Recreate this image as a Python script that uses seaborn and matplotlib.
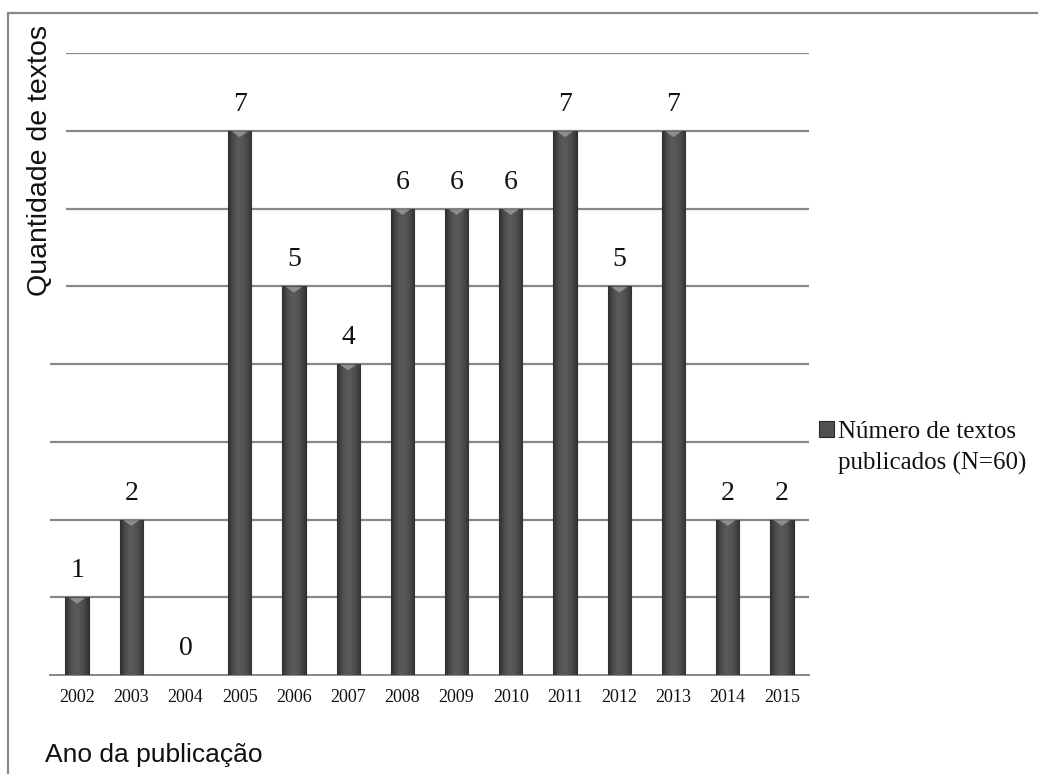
import numpy as np
import pandas as pd
import matplotlib
matplotlib.use('Agg')
import matplotlib.pyplot as plt
import matplotlib.transforms as mtransforms
from matplotlib.patches import Rectangle
from matplotlib.colors import LinearSegmentedColormap
import seaborn as sns

# data
years = ['2002', '2003', '2004', '2005', '2006', '2007', '2008',
         '2009', '2010', '2011', '2012', '2013', '2014', '2015']
counts = [1, 2, 0, 7, 5, 4, 6, 6, 6, 7, 5, 7, 2, 2]
series_lines = ['Número de textos', 'publicados (N=60)']

df = pd.DataFrame({'Ano': years, 'Quantidade': counts})

sns.set_theme(style='white')
plt.rcParams['font.family'] = ['Liberation Serif', 'DejaVu Serif']

fig = plt.figure(figsize=(10.38, 7.74), dpi=100)
ax = fig.add_axes([50 / 1038, 1 - 675 / 774, (809 - 50) / 1038, (675 - 53) / 774])

sns.barplot(data=df, x='Ano', y='Quantidade', color='#4f4f4f', width=0.43,
            edgecolor='#2b2b2b', linewidth=0.8, saturation=1, ax=ax,
            label=series_lines[0], zorder=3)

# horizontal shading on each bar, like the bevelled Excel look
shade = LinearSegmentedColormap.from_list(
    'bevel', ['#2e2e2e', '#4a4a4a', '#5a5a5a', '#575757', '#4a4a4a', '#333333'])
grad = np.linspace(0, 1, 64).reshape(1, -1)
for p in ax.patches:
    if p.get_height() <= 0:
        continue
    x0, y0 = p.get_x(), p.get_y()
    im = ax.imshow(grad, extent=[x0, x0 + p.get_width(), y0, y0 + p.get_height()],
                   aspect='auto', cmap=shade, zorder=3.5, interpolation='bicubic')
    im.set_clip_path(p)

# flat light triangle at the top of each bar
xs = np.arange(len(years))
top_vals = np.array(counts, dtype=float)
has_bar = top_vals > 0
tri = [(-1, 0.35), (1, 0.35), (0, -0.35), (-1, 0.35)]
tri_tf = mtransforms.offset_copy(ax.transData, fig=fig, x=0, y=-2.6, units='points')
ax.scatter(xs[has_bar], top_vals[has_bar], marker=tri, s=130, color='#8e8e8e',
           edgecolors='none', transform=tri_tf, zorder=4)

ax.bar_label(ax.containers[0], labels=[str(c) for c in counts], padding=10,
             fontsize=20, color='#111111', family='Liberation Serif')

ax.set_xlim(-0.5, len(years) - 0.5)
ax.set_ylim(0, 8)
ax.set_yticks(range(1, 9))
ax.set_yticklabels([])
ax.tick_params(axis='y', length=0)
ax.yaxis.grid(True, color='#888888', linewidth=1.6)
ax.set_axisbelow(True)

for side in ['top', 'right', 'left']:
    ax.spines[side].set_visible(False)
ax.spines['bottom'].set_color('#888888')
ax.spines['bottom'].set_linewidth(1.4)
ax.set_xticks(np.arange(-0.5, len(years), 1.0), minor=True)
ax.tick_params(axis='x', which='minor', length=6, width=1.2, color='#888888',
               direction='out')
ax.tick_params(axis='x', which='major', length=0, labelsize=13, pad=10,
               labelcolor='#111111')
ax.set_xlabel('')
ax.set_ylabel('')

# axis titles (sans-serif, like Arial)
fig.text(40 / 1038, 1 - 160 / 774, 'Quantidade de textos', rotation=90,
         ha='center', va='center', fontsize=20.5, family='Liberation Sans',
         color='#111111',
         bbox=dict(facecolor='white', edgecolor='none', pad=9))
fig.text(45 / 1038, 1 - 755 / 774, 'Ano da publicação', ha='left',
         va='center', fontsize=19, family='Liberation Sans', color='#111111')

# legend: handle next to the first line, second line set below it
leg = ax.legend(loc='center left', bbox_to_anchor=(819 / 1038, 1 - 432 / 774),
                bbox_transform=fig.transFigure, frameon=False, fontsize=18,
                handlelength=0.6, handleheight=0.6, handletextpad=0.15,
                borderpad=0, borderaxespad=0)
for t in leg.get_texts():
    t.set_color('#111111')
for h in leg.legend_handles:
    h.set_facecolor('#505050')
    h.set_edgecolor('#2b2b2b')
fig.canvas.draw()
first = leg.get_texts()[0].get_window_extent()
fig.text(first.x0 / 1038, 1 - 463 / 774, series_lines[1], ha='left',
         va='center', fontsize=18, color='#111111')

# outer chart border (only the top and left edges show in the crop)
fig.patches.append(Rectangle((8 / 1038, -0.2), 2, 1 - 13 / 774 + 0.2,
                             transform=fig.transFigure, fill=False,
                             edgecolor='#8a8a8a', linewidth=1.6, zorder=10))

fig.savefig('out.png', dpi=100)
